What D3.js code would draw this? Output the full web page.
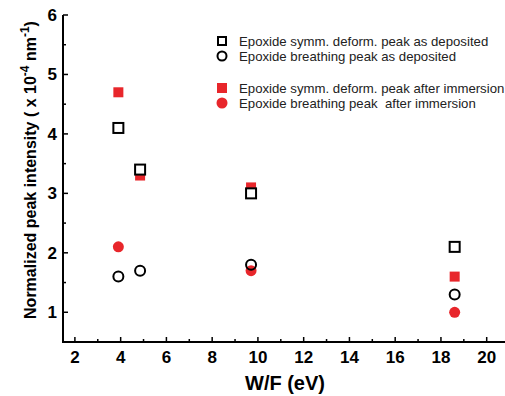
<!DOCTYPE html>
<html>
<head>
<meta charset="utf-8">
<script src="https://cdn.jsdelivr.net/npm/d3@7"></script>
<style>
body{margin:0;background:#fff;}
text{font-family:"Liberation Sans",Arial,sans-serif;white-space:pre;}
</style>
</head>
<body>
<script>
// W/F (eV) values of the samples
var wfDeposited = [3.9, 4.85, 9.7, 18.6];
var symmDeposited = [4.1, 3.4, 3.0, 2.1];
var breathDeposited = [1.6, 1.7, 1.8, 1.3];
var wfImmersed = [3.9, 4.85, 9.7, 18.6];
var symmImmersed = [4.7, 3.3, 3.1, 1.6];
var wfBreathImmersed = [3.9, 9.7, 18.6];
var breathImmersed = [2.1, 1.7, 1.0];
var xTicks = [2, 4, 6, 8, 10, 12, 14, 16, 18, 20];
var yTicks = [1, 2, 3, 4, 5, 6];
var legendLabels = ["Epoxide symm. deform. peak as deposited",
  "Epoxide breathing peak as deposited",
  "Epoxide symm. deform. peak after immersion",
  "Epoxide breathing peak  after immersion"];

var W = 505, H = 396;
var pLeft = 63, pTop = 15, pRight = 505, pBottom = 342;
var red = "#e8262b";

var svg = d3.select("body").append("svg").attr("width", W).attr("height", H);

var x = d3.scaleLinear().domain([1.48, 20.8]).range([pLeft, pRight]);
var y = d3.scaleLinear().domain([0.5, 6]).range([pBottom, pTop]);

// axes lines
svg.append("line").attr("x1", pLeft).attr("y1", pTop).attr("x2", pLeft).attr("y2", pBottom)
  .attr("stroke", "#000").attr("stroke-width", 2);
svg.append("line").attr("x1", pLeft - 1).attr("y1", pBottom).attr("x2", pRight).attr("y2", pBottom)
  .attr("stroke", "#000").attr("stroke-width", 2);

// x ticks (inward), major every 2, minor every 1
d3.range(2, 21, 1).forEach(function(v){
  var major = v % 2 === 0;
  svg.append("line").attr("x1", x(v)).attr("x2", x(v))
    .attr("y1", pBottom).attr("y2", pBottom - (major ? 5 : 3))
    .attr("stroke", "#000").attr("stroke-width", 1.5);
});
svg.selectAll(".xl").data(xTicks).enter().append("text")
  .attr("x", function(d){ return x(d); }).attr("y", 363)
  .attr("text-anchor", "middle").attr("font-size", 17).attr("font-weight", "bold")
  .text(function(d){ return d; });

// y ticks
d3.range(1, 6.01, 0.5).forEach(function(v){
  var major = Math.abs(v - Math.round(v)) < 0.01;
  svg.append("line").attr("x1", pLeft).attr("x2", pLeft + (major ? 5 : 3))
    .attr("y1", y(v)).attr("y2", y(v))
    .attr("stroke", "#000").attr("stroke-width", 1.5);
});
svg.selectAll(".yl").data(yTicks).enter().append("text")
  .attr("x", 57).attr("y", function(d){ return y(d) + 6; })
  .attr("text-anchor", "end").attr("font-size", 17).attr("font-weight", "bold")
  .text(function(d){ return d; });

// axis titles
svg.append("text").attr("x", 285).attr("y", 390).attr("text-anchor", "middle")
  .attr("font-size", 20).attr("font-weight", "bold").text("W/F (eV)");

var yt = svg.append("text").attr("transform", "translate(36,170) rotate(-90)")
  .attr("text-anchor", "middle").attr("font-size", 16).attr("font-weight", "bold");
yt.append("tspan").text("Normalized peak intensity ( x 10");
yt.append("tspan").attr("dy", -7).attr("font-size", 12).text("-4");
yt.append("tspan").attr("dy", 7).text(" nm");
yt.append("tspan").attr("dy", -7).attr("font-size", 12).text("-1");
yt.append("tspan").attr("dy", 7).text(")");

// markers
function squares(xs, ys, filled){
  svg.selectAll(null).data(xs).enter().append("rect")
    .attr("x", function(d){ return x(d) - 5; })
    .attr("y", function(d, i){ return y(ys[i]) - 5; })
    .attr("width", 10).attr("height", 10)
    .attr("fill", filled ? red : "#fff")
    .attr("stroke", filled ? "none" : "#000").attr("stroke-width", 2);
}
function circles(xs, ys, filled){
  svg.selectAll(null).data(xs).enter().append("circle")
    .attr("cx", function(d){ return x(d); })
    .attr("cy", function(d, i){ return y(ys[i]); })
    .attr("r", filled ? 5.5 : 5)
    .attr("fill", filled ? red : "none")
    .attr("stroke", filled ? "none" : "#000").attr("stroke-width", 2);
}
squares(wfImmersed, symmImmersed, true);
circles(wfBreathImmersed, breathImmersed, true);
squares(wfDeposited, symmDeposited, false);
circles(wfDeposited, breathDeposited, false);

// legend
var legY = [41, 56, 88, 103];
legendLabels.forEach(function(lab, i){
  var cy = legY[i], mx = 222;
  if (i === 0) svg.append("rect").attr("x", mx - 4).attr("y", cy - 4).attr("width", 8).attr("height", 8)
    .attr("fill", "#fff").attr("stroke", "#000").attr("stroke-width", 2);
  if (i === 1) svg.append("circle").attr("cx", mx).attr("cy", cy).attr("r", 4.5)
    .attr("fill", "none").attr("stroke", "#000").attr("stroke-width", 2);
  if (i === 2) svg.append("rect").attr("x", mx - 5).attr("y", cy - 5).attr("width", 10).attr("height", 10)
    .attr("fill", red);
  if (i === 3) svg.append("circle").attr("cx", mx).attr("cy", cy).attr("r", 5.5).attr("fill", red);
  svg.append("text").attr("x", 239).attr("y", cy + 4.5).attr("font-size", 13.2)
    .attr("fill", "#222").text(lab);
});
</script>
</body>
</html>
